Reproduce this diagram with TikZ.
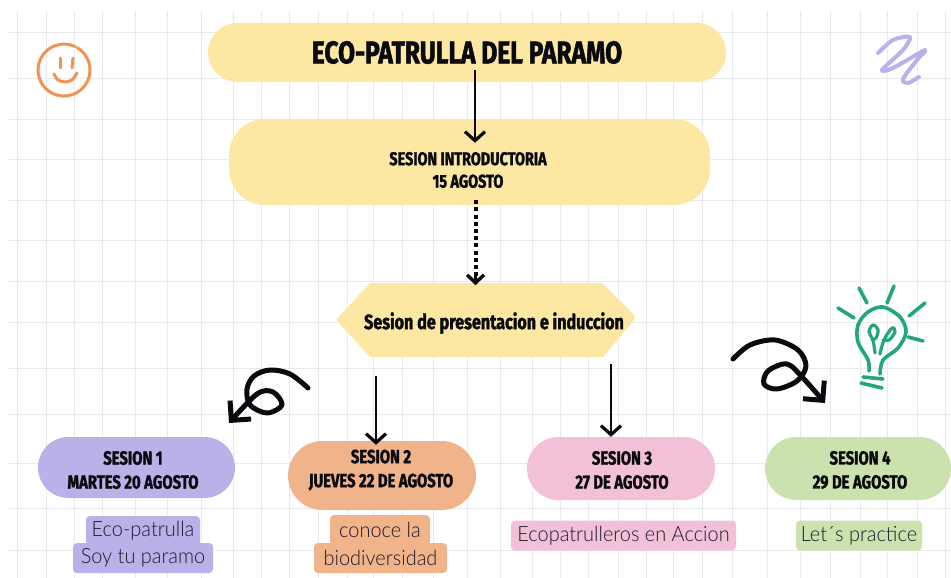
\documentclass[tikz,border=0pt]{standalone}
\usepackage{fontspec}
\usetikzlibrary{arrows.meta,shapes.misc,calc}
\newfontfamily\handfont[FakeStretch=0.78,FakeBold=1.6]{Fira Sans Bold}
\newfontfamily\bodyfont[FakeStretch=0.95]{Lato Light}
\definecolor{cyellow}{HTML}{FCE8A2}
\definecolor{cpurple}{HTML}{B9B2E8}
\definecolor{corange}{HTML}{F1B38A}
\definecolor{cpink}{HTML}{F3C1D7}
\definecolor{cgreen}{HTML}{CBE2AE}
\definecolor{cgrid}{HTML}{EAEAEE}
\definecolor{cink}{HTML}{0A0A0E}
\definecolor{cbody}{HTML}{1E1A2A}
\definecolor{csmile}{HTML}{F2934F}
\definecolor{cbulb}{HTML}{22A777}
\tikzset{
  x=1pt,y=-1pt,
  pill/.style={fill=#1,draw=none,rounded rectangle,inner sep=0pt},
  sesstext/.style={text=cink,align=center,inner sep=0pt,font=\handfont\fontsize{19}{24}\selectfont},
  tag/.style={fill=#1,draw=none,rounded corners=4pt,text=cbody,inner sep=0pt,font=\bodyfont\fontsize{21}{25}\selectfont},
  arrowline/.style={draw=cink,line width=2.5pt,-{Straight Barb[length=9pt,width=20pt,line width=3.2pt]}},
  curlyline/.style={draw=cink,line width=5pt,line cap=round,line join=round,-{Straight Barb[length=14pt,width=28pt,line width=5pt]}},
  doodle/.style={draw=#1,line cap=round,line join=round},
}
\begin{document}
\begin{tikzpicture}
\useasboundingbox (0,0) rectangle (951,578);
\fill[white] (0,0) rectangle (951,578);
% grid
\foreach \gx in {17,46,74,102,135,167,201,233,261,289,318,347,373,402,433,467,500,532,560,588,618,646,673,702,732,767,800,830,860,887,917,945}
  \draw[cgrid,line width=.8pt] (\gx,11) -- (\gx,578);
\foreach \gy in {32,78,119,159,200,240,281,322,368,414,463,508,550}
  \draw[cgrid,line width=.8pt] (8,\gy) -- (951,\gy);
% main boxes
\node[pill=cyellow,minimum width=518pt,minimum height=59pt,text=cink,font=\handfont\fontsize{31.5}{34}\selectfont] (title) at (467,52.5) {ECO-PATRULLA DEL PARAMO};
\node[fill=cyellow,rectangle,rounded corners=36pt,inner sep=0pt,minimum width=481pt,minimum height=86pt] (intro) at (469.5,162) {};
\node[sesstext,font=\handfont\fontsize{18.5}{22.5}\selectfont] (introtext) at (468,170) {SESION INTRODUCTORIA\\15 AGOSTO};
\fill[cyellow,rounded corners=1pt] (336,320) -- (370,283) -- (602,283) -- (630,311) [rounded corners=3pt] -- (636,317) -- (630,325) [rounded corners=1pt] -- (603,357) -- (370,357) -- cycle;
\node[font=\handfont\fontsize{20.7}{22}\selectfont,text=cink,inner sep=0pt] (pres) at (494,323) {Sesion de presentacion e induccion};
\coordinate (preslower) at (486,357);
% sessions
\node[pill=cpurple,minimum width=197pt,minimum height=61pt] (s1) at (136.5,467.5) {};
\node[pill=corange,minimum width=188pt,minimum height=69pt] (s2) at (382,475.5) {};
\node[pill=cpink,minimum width=188pt,minimum height=63pt] (s3) at (621,468.5) {};
\node[pill=cgreen,minimum width=186pt,minimum height=63pt] (s4) at (858,468.5) {};
\node[sesstext] (s1text) at (133,470) {SESION 1\\MARTES 20 AGOSTO};
\node[sesstext] (s2text) at (381,470) {SESION 2\\JUEVES 22 DE AGOSTO};
\node[sesstext] (s3text) at (622,470) {SESION 3\\27 DE AGOSTO};
\node[sesstext] (s4text) at (860,470) {SESION 4\\29 DE AGOSTO};
% tags
\node[tag=cpurple,minimum width=114pt,minimum height=30pt] (t1a) at (143,531) {Eco-patrulla};
\node[tag=cpurple,minimum width=140pt,minimum height=30pt] (t1b) at (143,558) {Soy tu paramo};
\node[tag=corange,minimum width=100pt,minimum height=30pt] (t2a) at (380,530) {conoce la};
\node[tag=corange,minimum width=133pt,minimum height=30pt] (t2b) at (380.5,558) {biodiversidad};
\node[tag=cpink,minimum width=225pt,minimum height=30pt] (t3) at (623.5,535.5) {Ecopatrulleros en Accion};
\node[tag=cgreen,minimum width=126pt,minimum height=30pt] (t4) at (859,535.5) {Let´s practice};
% connectors
\draw[arrowline] ([shift={(8,-12)}]title.south) -- ([shift={(5.5,24)}]intro.north);
\draw[draw=cink,line width=4pt,dash pattern=on 4pt off 3.2pt] ([shift={(6,-5)}]intro.south) -- ([shift={(6,73)}]intro.south);
\draw[cink,line width=3pt,-{Straight Barb[length=8pt,width=17pt,line width=3.4pt]}] ([shift={(6,70)}]intro.south) -- ([shift={(6,80)}]intro.south);
\draw[arrowline] ([shift={(-110,19)}]preslower) -- ([shift={(-6,4)}]s2.north);
\draw[arrowline] ([shift={(125,7)}]preslower) -- ([shift={(-10,0)}]s3.north);
% curly arrows
\coordinate (curlA) at (308,388);
\coordinate (curlB) at (733,359);
\draw[curlyline] plot[smooth,tension=.55] coordinates {(curlA) (290,374) (270,370) (254,376) (247,389) (250,405) (267,413) (282,405) (273,392) (257,394) (229,423)};
\draw[curlyline] plot[smooth,tension=.55] coordinates {(curlB) (750,345) (775,340) (798,350) (806,366) (797,381) (777,389) (764,384) (768,371) (787,364) (803,378) (825,403)};
% smiley
\draw[doodle=csmile,line width=3pt] (75,46.5) arc[start angle=-65,end angle=-420,radius=26];
\draw[doodle=csmile,line width=3pt] (60,58) -- (60,68);
\draw[doodle=csmile,line width=3pt] (73,58) -- (72,68);
\draw[doodle=csmile,line width=3pt] plot[smooth] coordinates {(54,74) (58,80) (65,82) (72,80) (77,73)};
% squiggle
\draw[doodle=cpurple,line width=4pt] plot[smooth,tension=.5] coordinates {(878,53) (893,40) (910,37) (903,50) (882,70) (893,68) (925,50) (917,60) (903,79) (908,83) (919,77)};
% bulb
\foreach \ax/\ay/\bx/\by in {859/288/867/303,894/286/887/303,925/303/909/316,838/308/854/318,908/337/923/341,863/377/883/379,861/383/882/388}
  \draw[doodle=cbulb,line width=3.6pt] (\ax,\ay) -- (\bx,\by);
\draw[doodle=cbulb,line width=3.6pt] plot[smooth,tension=.55] coordinates {(869,371) (868,360) (858,342) (858,325) (868,312) (883,307) (900,317) (906,332) (898,348) (883,360) (880,374)};
\draw[doodle=cbulb,line width=3.2pt] plot[smooth,tension=.6] coordinates {(875,353) (873,340) (869,332) (873,325) (878,330) (876,338) (872,340)};
\draw[doodle=cbulb,line width=3.2pt] plot[smooth,tension=.6] coordinates {(880,354) (884,340) (892,328) (895,332) (889,340) (883,340)};
\end{tikzpicture}
\end{document}
